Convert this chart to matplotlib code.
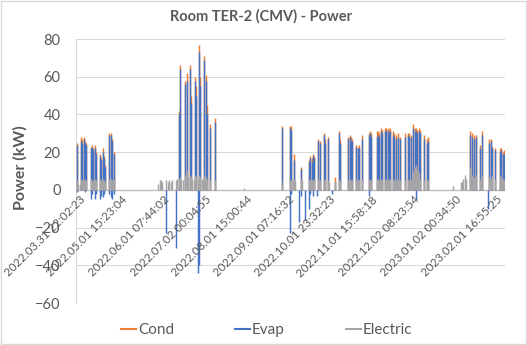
import matplotlib
matplotlib.use("Agg")
import matplotlib.pyplot as plt
from matplotlib.lines import Line2D
from matplotlib.patches import Rectangle

plt.rcParams['font.family'] = ['Lato', 'DejaVu Sans']

# days counted from 2022.03.31
act_days = [0, 3, 4, 5, 6, 7, 10, 11, 12, 13, 14, 17, 18, 19, 20, 21, 24, 25, 26, 27,
            75, 76, 80, 81, 83, 84, 87, 88, 90, 91, 94, 95, 96, 98, 102,
            151, 157, 158, 160, 165, 171, 172, 173, 174, 175, 178, 179, 182, 183, 185, 190, 193, 194,
            200, 201, 202, 203, 206, 207, 208, 210, 215, 216, 217, 221, 222, 223, 224, 225,
            227, 228, 229, 230, 231, 233, 234, 235, 237, 238, 242, 244, 245, 246,
            248, 249, 250, 251, 252, 253, 256, 258, 259,
            290, 291, 293, 294, 297, 299, 304, 305, 306, 308, 312, 313, 314, 315]
cond = [25, 28, 27, 28, 26, 25, 23, 24, 22, 24, 20, 19, 17, 22, 18, 13, 30, 30, 27, 20,
        42, 66, 58, 62, 66, 50, 60, 55, 77, 60, 71, 61, 45, 35, 38,
        34, 34, 34, 19, 12, 16, 18, 17, 19, 18, 27, 26, 30, 27, 28, 7, 31, 27,
        28, 29, 28, 27, 24, 23, 24, 29, 30, 31, 30, 31, 31, 30, 33, 32,
        33, 33, 33, 32, 33, 31, 30, 29, 30, 28, 30, 30, 30, 29,
        35, 33, 33, 32, 33, 32, 29, 27, 28,
        31, 30, 29, 29, 24, 31, 27, 27, 23, 22, 22, 22, 20, 21]
evap = [24, 26, 25, 27, 25, 24, 22, 23, 21, 22, 19, 18, 16, 20, 17, 12, 29, 29, 26, 19,
        40, 64, 56, 58, 64, 46, 58, 50, 73, 55, 69, 58, 40, 33, 36,
        33, 33, 32, 16, 11, 15, 17, 15, 18, 17, 26, 25, 29, 25, 27, 4, 30, 25,
        27, 28, 26, 26, 23, 22, 22, 27, 29, 30, 28, 28, 29, 28, 31, 30,
        31, 32, 31, 30, 31, 29, 28, 27, 28, 27, 28, 29, 28, 28,
        33, 31, 31, 30, 31, 30, 27, 25, 26,
        29, 28, 27, 28, 22, 29, 25, 26, 22, 21, 20, 21, 19, 19]
elec = [5, 6, 5, 6, 5, 5, 6, 5, 5, 6, 5, 6, 5, 6, 5, 4, 6, 6, 5, 5,
        6, 7, 8, 10, 8, 7, 8, 7, 8, 7, 8, 7, 6, 5, 5,
        4, 5, 5, 6, 6, 5, 6, 5, 6, 5, 6, 5, 5, 6, 5, 4, 5, 5,
        5, 6, 5, 5, 5, 6, 5, 5, 5, 6, 5, 6, 5, 6, 5, 6,
        5, 6, 6, 5, 6, 5, 6, 5, 6, 5, 5, 6, 5, 6,
        10, 12, 13, 11, 9, 6, 5, 5, 5,
        12, 8, 7, 8, 6, 8, 7, 6, 8, 6, 8, 7, 6, 5]

# days with only electric consumption
idle_days = [1, 2, 60, 61, 62, 63, 66, 67, 68, 69, 70, 73, 74, 77, 78, 82, 85, 86, 89, 92, 93,
             123, 159, 161, 166, 186, 277, 283, 284, 285, 286, 287, 298]
idle_elec = [3, 3, 3, 5, 5, 4, 5, 4, 5, 4, 5, 5, 6, 6, 5, 7, 6, 5, 6, 6, 5,
             1, 5, 5, 5, 4, 2, 4, 4, 6, 8, 6, 5]

# negative evaporator dips
neg_days = [0, 6, 10, 11, 13, 14, 17, 18, 19, 20, 24, 25, 26, 27,
            66, 73, 89, 90, 157, 158, 164, 165, 168, 171, 172, 174, 177, 188, 215, 250, 303]
neg_evap = [-1, -1, -5, -2, -5, -2, -5, -3, -4, -2, -2, -4, -5, -2,
            -23, -31, -44, -40, -23, -2, -17, -3, -16, -10, -2, -3, -3, -2, -3, -5, -10]

tick_days = [0, 31, 62, 93, 123, 154, 184, 215, 246, 277, 307]
tick_labels = ["2022.03.31 22:02:23", "2022.05.01 15:23:04", "2022.06.01 07:44:02",
               "2022.07.02 00:04:55", "2022.08.01 15:00:44", "2022.09.01 07:16:32",
               "2022.10.01 23:32:23", "2022.11.01 15:58:18", "2022.12.02 08:23:54",
               "2023.01.02 00:34:50", "2023.02.01 16:55:25"]

c_cond, c_evap, c_elec = "#ED7D31", "#4472C4", "#A5A5A5"
txt = "#595959"
lw = 1.05

fig = plt.figure(figsize=(5.27, 3.45), dpi=100)
ax = fig.add_axes([0.1442, 0.1217, 0.814, 0.765])

ax.vlines(act_days, 0, cond, color=c_cond, lw=lw, capstyle='butt', zorder=3)
ax.vlines(act_days, 0, evap, color=c_evap, lw=lw, capstyle='butt', zorder=4)
ax.vlines(neg_days, neg_evap, 0, color=c_evap, lw=lw, capstyle='butt', zorder=4)
ax.vlines(act_days, 0, elec, color=c_elec, lw=lw, capstyle='butt', zorder=5)
ax.vlines(idle_days, 0, idle_elec, color=c_elec, lw=lw, capstyle='butt', zorder=5)

ax.set_xlim(-0.7, 315.6)
ax.set_ylim(-60, 80)
ax.set_yticks(range(-60, 81, 20))
ax.set_xticks([])
ax.yaxis.grid(True, color="#D9D9D9", lw=0.75, zorder=0)
ax.set_axisbelow(True)
for s in ["top", "right", "bottom"]:
    ax.spines[s].set_visible(False)
ax.spines["left"].set_color("#D9D9D9")
ax.spines["left"].set_linewidth(0.75)
ax.axhline(0, color="#BFBFBF", lw=1, zorder=2)
ax.tick_params(axis="y", length=0, pad=11, labelsize=10.5, labelcolor=txt)

for d, lab in zip(tick_days, tick_labels):
    ax.annotate(lab, (d, 0), xytext=(2, -3), textcoords="offset points",
                ha="right", va="top", rotation=45, rotation_mode="anchor",
                fontsize=8.4, color=txt, zorder=6)

fig.text(0.496, 0.954, "Room TER-2 (CMV) - Power", ha="center", va="center",
         fontsize=10.5, fontweight="bold", color=txt)
fig.text(20 / 527, 1 - 168 / 345, "Power (kW)", rotation=90, ha="center", va="center",
         fontsize=11.5, fontweight="bold", color=txt)

handles = [Line2D([], [], color=c, lw=1.5) for c in (c_cond, c_evap, c_elec)]
fig.legend(handles, ["Cond", "Evap", "Electric"], loc="center",
           bbox_to_anchor=(0.506, 0.043), ncol=3, frameon=False, fontsize=11,
           handlelength=1.0, handletextpad=0.1, columnspacing=4.0, labelcolor=txt)

fig.patches.append(Rectangle((0.001, 0.003), 0.997, 0.994, transform=fig.transFigure,
                             fill=False, edgecolor="#D9D9D9", lw=1))

fig.savefig("out.png", dpi=100)
